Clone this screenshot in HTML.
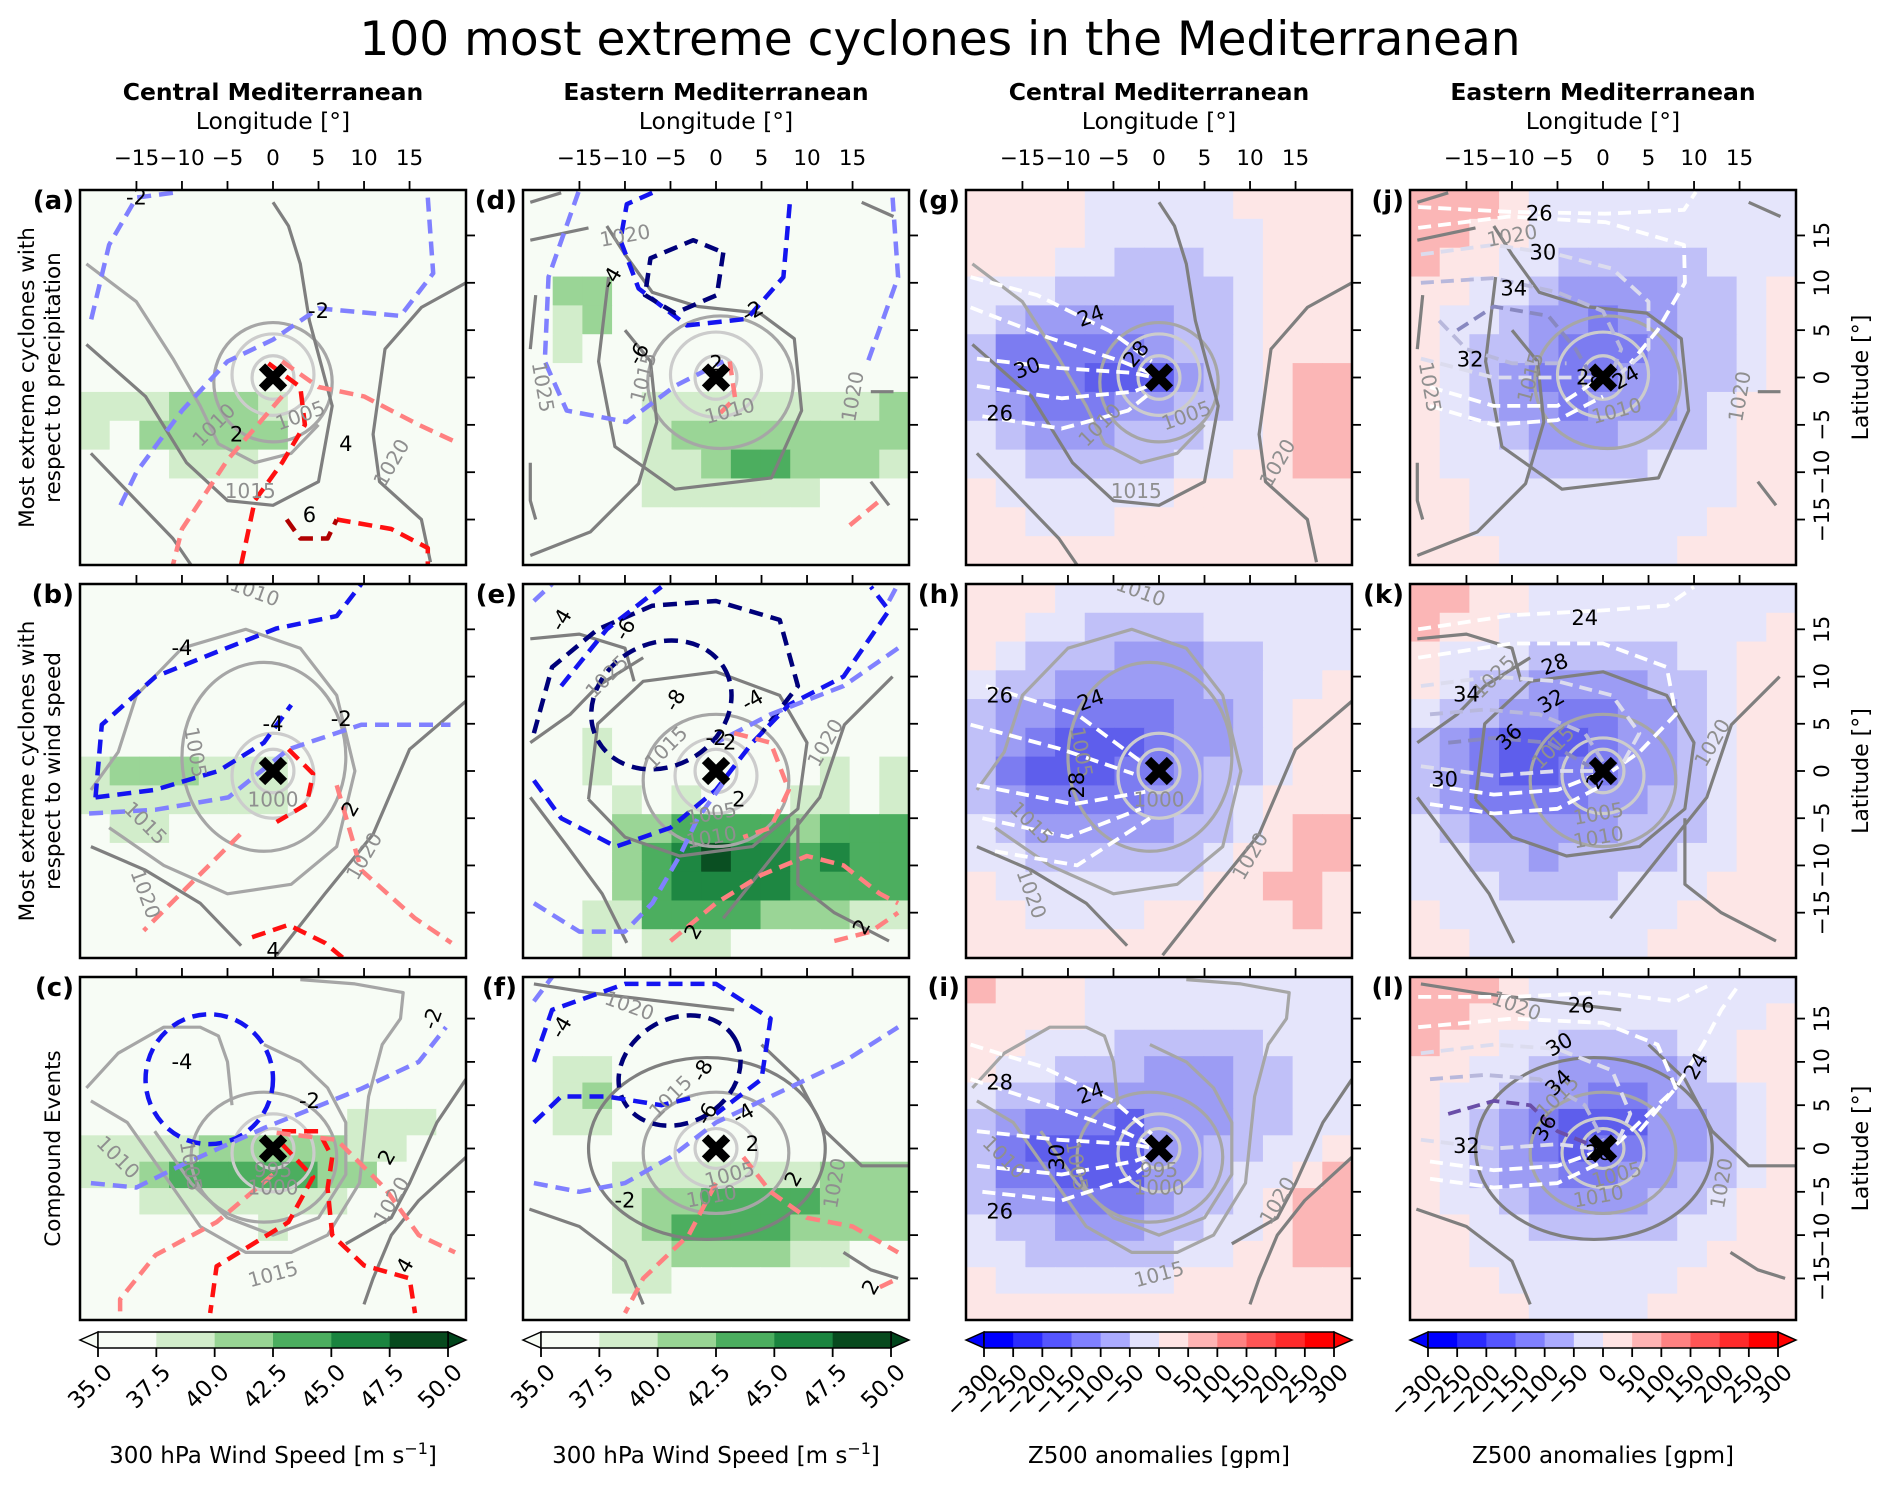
<!DOCTYPE html>
<html><head><meta charset="utf-8">
<style>
html,body{margin:0;padding:0;background:#fff;}
svg{display:block;font-family:"DejaVu Sans","Liberation Sans",sans-serif;}
</style></head>
<body>
<svg id="fig" width="1892" height="1490" viewBox="0 0 1892 1490" xmlns="http://www.w3.org/2000/svg">
<text x="940" y="55" text-anchor="middle" font-size="47" fill="#000">100 most extreme cyclones in the Mediterranean</text>
<g id="root"></g>
</svg>
<script>
// ---- layout ----
const colX=[80,523,966,1410];
const rowY=[190,584,977];
const rowH=[375,374,343];
const PW=386;
const LON_MAX=21.2, LAT_MAX=19.8;
const lonTicks=[-15,-10,-5,0,5,10,15];
const latTicks=[-15,-10,-5,0,5,10,15];
const colTitles=["Central Mediterranean","Eastern Mediterranean","Central Mediterranean","Eastern Mediterranean"];
const rowTitles=[["Most extreme cyclones with","respect to precipitation"],["Most extreme cyclones with","respect to wind speed"],["Compound Events"]];
const panelLetters=[["a","d","g","j"],["b","e","h","k"],["c","f","i","l"]];

// ---- heatmap grids (13x13 level codes) ----
const greenColors={'.':'#f7fcf5','1':'#d2edcb','2':'#9ad596','3':'#4cae5f','4':'#1e8742','5':'#0a4f22'};
const bwrColors={'p':'#fde6e6','P':'#fbb6b6','w':'#e5e5fb','a':'#c0c0f8','b':'#9c9cf4','c':'#7c7cf1','d':'#5e5eec'};
const E13='.............';
const gridA=[E13,E13,E13,E13,E13,E13,E13,"1112221......","1.22222......","...111.......",E13,E13,E13];
const gridB=[E13,E13,E13,E13,E13,E13,"1222111......","1111111......",".11..........",E13,E13,E13,E13];
const gridC=[E13,E13,E13,E13,E13,".........111.","11112222211..","1123333322...","..1111111....","......1......",E13,E13,E13];
const gridD=[E13,E13,E13,".22..........",".12..........",".1...........",E13,"....111111112","....122222222","....112332221","....111111...",E13,E13];
const gridE=[E13,E13,E13,E13,E13,"..1..........","..1.......1.1","...1.1...11.1","...2233332333","...2345443433","...2344443333","..11333322211","..1.111......"];
const gridF=[E13,E13,E13,".11..........",".12..........",".11..........",E13,"...1111111222","...1223333222","...1233332222","...11222211..","...11........",E13];
const gridG=["ppppwwwwwpppp","ppppwwwwwwppp","pppwwaaawwppp","wwwaaaaaawppp","wabbbbbaawppp","acccccbaawppp","acccdddbawpPP","abcccbbaawpPP","wabbbaaawwpPP","wwaaaaawwppPP","pwwwwwwpppppp","ppwwwpppppppp","ppppppppppppp"];
const gridH=["pppwwwwwwwwww","ppwwaaaawwwww","pwaaabbbaawww","waabbbbbaawwp","abbccccbbawpp","abcdddcbbawpp","acdddccbaawpp","abccccbbawppp","wabbbbbaawpPP","wwaaaaaawppPP","pwwwwwwwppPPp","ppwwwwpppppPp","ppppppppppppp"];
const gridI=["Ppppwwwwwwwww","ppppwwwwwwwww","ppwwwaaaaawww","pwwaaabbbaaww","waabbbbbbaaww","abcccdbbbaaww","acddddbbaawwp","accdddbbawwpP","abbcccbaawpPP","waabbbaawwpPP","wwaaaaawwppPP","pwwwwwwpppppp","ppppppppppppp"];
const gridJ=["PPPpwwwwwwwww","PPppwwwwwwwww","Pppwwaaaaawww","ppwwabbbbaawp","pwwabbcbbaawp","pwaabcccbaawp","pwabcccbbaawp","pwabbcbbbawpp","pwwabbbaaawpp","pwwwaaaawwwpp","ppwwwwwwwwwpp","ppwwwwwwwwppp","pppwwwwwwpppp"];
const gridK=["PPppwwwwwwwww","Pppwwwwwwwwwp","pwwwaaaaawwpp","pwaabbbbaawpp","waabbccbbawpp","abcdddcbbawpp","abcddccbbawpp","abccccbbaawpp","wabbbbbaaawpp","wwaabaaaawwpp","wwwaaaawwwppp","pwwwwwwwwpppp","ppwwwwwwppppp"];
const gridL=["PPPpwwwwwwwww","PPppwwwwwwwwp","Pppwwaaaawwpp","ppwwabbbbawpp","pwwabbccbaawp","pwabcdddbbawp","pwabcdccbbawp","pwabbccbbaawp","pwwabbbbaawpp","ppwwaaaaawwpp","ppwwwwwwwwppp","pppwwwwwwpppp","ppppwwwwppppp"];

// ---- isobars (hPa) shared per region/row: [lon,lat] points ----
const isoCentral1=[
 {e:[0,0,2.3,2.3],s:'g3'},{e:[0,0.3,4.5,4.3],s:'g3'},{e:[0,-0.5,6.5,6.3],s:'g2'},
 {p:[[-20.5,12],[-15,8],[-11,2],[-8,-3],[-6,-7],[-2,-9],[2,-8],[5,-5]],s:'g2'},
 {p:[[-20.5,3.5],[-14,-2],[-9.5,-9],[-5,-13],[0,-13.5],[5,-11],[6.5,-3],[4,6],[3,12],[1.7,16],[0,18.5]],s:'g1'},
 {p:[[21.2,10],[16.3,7.4],[12.3,3],[11,-6],[11.7,-11],[16.3,-15],[17.3,-19.5]],s:'g1'},
 {p:[[-20,-8],[-15,-13],[-11,-17],[-9,-19.8]],s:'g1'}];
const isoCentral1Labels=[["1005",3,-4,-20],["1010",-6.5,-5,-45],["1015",-2.5,-12,0],["1020",13,-9,-60]];
const isoCentral2=[
 {e:[0,0,2.3,2.3],s:'g3'},{e:[0,-0.5,4.5,4.5],s:'g3'},
 {p:[[-20,-2],[-17,2],[-15,8],[-10,13],[-3,15],[3,13],[7,8],[9,0],[7,-8],[2,-12],[-5,-13],[-12,-10],[-18,-6]],s:'g2'},
 {e:[-1,1.5,9,10],s:'g2'},
 {p:[[-20,-8],[-14,-10.5],[-8,-14],[-3.5,-18.5]],s:'g1'},
 {p:[[21.2,7.4],[15,2.3],[11,-6.7],[5.7,-13],[0.4,-19.5]],s:'g1'}];
const isoCentral2Labels=[["1005",-8.5,2,80],["1000",0,-3,0],["1015",-14,-5.5,45],["1020",-14,-13,70],["1020",10,-9,-60],["1010",-2,19,20]];
const isoCentral3=[
 {e:[0,0,2.3,2.3],s:'g3'},{e:[0,-0.5,4.5,4.5],s:'g3'},{e:[-1,-1,8,7.5],s:'g2'},
 {p:[[-13,2],[-9,-4],[-5,-8],[0,-10],[5,-8],[8,-3],[8,3],[6,7],[3,10],[-1,12]],s:'g2'},
 {p:[[-20.5,7],[-17,11],[-12,14],[-8,14],[-6,13],[-5,10],[-4.5,5]],s:'g2'},
 {p:[[-20,5.5],[-16,3],[-12,-3],[-8,-9],[-3,-12],[2,-12],[6,-10],[9.5,-4],[10.5,6],[12,12],[14,15],[14.3,18],[9,19],[3,19.5]],s:'g2'},
 {p:[[8,-11],[13,-8],[15,-4],[18,3],[21.2,8]],s:'g1'},
 {p:[[21.2,-1],[16,-6],[13,-10],[11,-15],[10,-18]],s:'g1'}];
const isoCentral3Labels=[["1010",-17,-1,45],["1005",-9,-2,80],["995",0,-2.5,0],["1000",0,-4.5,0],["1015",0,-14.5,-15],["1020",13,-6,-60]];
const isoEastern1=[
 {e:[0,0,2.3,2.3],s:'g3'},{e:[0,0.3,5,4.5],s:'g3'},{e:[0.5,-0.5,8,7],s:'g2'},
 {p:[[-11.8,10.6],[-12.9,1.7],[-11.1,-7.3],[-4.5,-11.8],[6.1,-10.6],[9.4,-3.5],[8.6,4.1],[4.8,6.8],[-2,7.5],[-7,9],[-10,13],[-12,16]],s:'g1'},
 {p:[[-20.4,-18.8],[-13.8,-16.3],[-8.5,-11.2],[-6.5,-4.7],[-7.2,1.7],[-10,5]],s:'g1'},
 {p:[[-19.8,8.7],[-20.4,3]],s:'g1'},{p:[[-20.4,-9],[-20.4,-13],[-19.8,-15]],s:'g1'},
 {p:[[-20.4,14.5],[-14,15.8]],s:'g1'},{p:[[-20.4,18.5],[-17,19.5]],s:'g1'},
 {p:[[16,18.5],[19.5,17]],s:'g1'},{p:[[17,-1.5],[19.5,-1.5]],s:'g1'},{p:[[17,-11],[19,-13.5]],s:'g1'}];
const isoEastern1Labels=[["1020",-10,15,-10],["1025",-19,-1,80],["1015",-8,0,-75],["1010",1.5,-3.5,-15],["1020",15,-2,-80]];
const isoEastern2=[
 {e:[0,0,2.3,2.3],s:'g3'},{e:[0,-0.5,4.5,4],s:'g3'},{e:[0,-1,8,7],s:'g2'},
 {p:[[-14,-3],[-13,5],[-8,9.5],[0,10.5],[7,8],[10,3],[9,-4],[4,-8],[-4,-9],[-10,-7],[-14,-3]],s:'g1'},
 {p:[[19.4,10],[14.1,4.9],[11.4,-2.8],[6.1,-9.2],[0.8,-15.6]],s:'g1'},
 {p:[[-20.4,-2.8],[-16.4,-7.9],[-12.5,-13],[-9.8,-18.2]],s:'g1'},
 {p:[[-20.4,14],[-15,14.5],[-10,13],[-9,9.5]],s:'g1'},
 {p:[[-20.4,3],[-16,6],[-13,9],[-8,12]],s:'g1'},
 {p:[[9,-5],[9,-12],[13,-15],[19,-18]],s:'g1'}];
const isoEastern2Labels=[["1025",-12,10,-45],["1015",-5.5,2.5,-45],["1005",-0.5,-4.5,-10],["1010",-0.5,-7,-10],["1020",12,3,-60]];
const isoEastern3=[
 {e:[0,0,2.3,2.3],s:'g3'},{e:[0,-0.5,4.5,4],s:'g3'},{e:[0,-0.5,8,7],s:'g2'},
 {e:[-1,0,13,10.5],s:'g1'},
 {p:[[21.2,-2],[16,-2],[12,2],[9,8],[5,12]],s:'g1'},
 {p:[[-20.5,-7],[-15,-9],[-10,-13],[-8,-18]],s:'g1'},
 {p:[[-20,19],[-14,18],[-6,17],[2,16]],s:'g1'},
 {p:[[14,-12],[17,-14],[20,-15]],s:'g1'}];
const isoEastern3Labels=[["1020",-9.5,16.5,20],["1015",-5,6,-45],["1005",1.5,-3,-15],["1010",-0.5,-5.5,-10],["1020",13,-4,-80]];

// ---- anomaly contours (dashed) per panel ----
const dashA=[
 {p:[[-11,19.5],[-15,19],[-18,14],[-20,6]],s:'bl'},
 {p:[[17,19],[17.6,11],[14,6.5],[5,7.3],[0,4],[-5,1.7],[-10,-3.5],[-15,-10],[-17,-14]],s:'bl'},
 {p:[[1,1.7],[5,-1],[10,-2],[16,-5],[20.5,-7]],s:'rl'},{p:[[1,-2],[-5,-8.7],[-10,-16],[-11,-19.8]],s:'rl'},
 {p:[[-0.5,1.5],[3,-1],[3.5,-5],[1,-9],[-2,-13],[-3.5,-19.8]],s:'rm'},{p:[[7,-15],[13,-16],[17,-18],[17,-19.8]],s:'rm'},
 {p:[[1.5,-15],[3,-17],[6,-17],[7,-15]],s:'rd'}];
const dashALabels=[["-2",-15,19,0],["-2",5,7,0],["2",-4,-6,0],["4",8,-7,0],["6",4,-14.5,0]];
const dashB=[
 {p:[[-19.5,-2.8],[-18.8,4.9],[-12.9,10],[-6.2,12.6],[0.4,15.1],[7,16.4],[9.7,19.8]],s:'bm'},
 {p:[[-19.5,-2.8],[-13,-2],[-6,0],[-1,3],[2,7]],s:'bm'},
 {p:[[-20.2,-4.5],[-12.9,-4.1],[-4.9,-2.8],[1.7,2.3],[9.7,4.9],[19.5,4.9]],s:'bl'},
 {p:[[1.7,2.3],[4.4,-0.3],[3.7,-3.5],[0.4,-5.4]],s:'rm'},
 {p:[[-3.6,-6.7],[-8.9,-11.8],[-14.2,-16.9]],s:'rl'},
 {p:[[7,-1.5],[9.7,-10.5],[15.6,-15.6],[19.6,-18.2]],s:'rl'},
 {p:[[-2.3,-17.6],[1.7,-16.3],[5.7,-18.2],[7.7,-19.8]],s:'rm'}];
const dashBLabels=[["-4",-10,13,0],["-4",0,5,0],["-2",7.5,5.5,0],["2",8.5,-4,-60],["4",0,-19,0]];
const dashC=[
 {e:[-7,8,7,7.5],s:'bm'},
 {p:[[-20,-4],[-15,-4.5],[-10.2,-2],[-0.9,2.4],[9.7,6.9],[16,10],[19,14]],s:'bl'},
 {p:[[1,0.5],[4.4,-3.3],[1.7,-8.5],[-6.2,-13.6],[-6.9,-19]],s:'rm'},
 {p:[[1,2],[5,2],[6.5,-1],[6,-4.6],[6.5,-10],[10,-13.5],[15,-15],[15.6,-19]],s:'rm'},
 {p:[[0.4,1.8],[7,1],[12.3,-4.6],[16,-10],[20,-12]],s:'rl'},
 {p:[[0,-3],[-6.2,-8.5],[-12.9,-12.3],[-16.8,-17.4],[-16.8,-19]],s:'rl'}];
const dashCLabels=[["-4",-10,10,0],["-2",4,5.5,0],["2",12.5,-1,-60],["4",14.5,-13.5,-60],["-2",17.5,15,-70]];
const dashD=[
 {p:[[-15.1,19.6],[-18.4,10.6],[-18.8,1.7],[-16.4,-3.5],[-9.8,-4.7],[-4.5,-0.9],[0.8,1.7]],s:'bl'},
 {p:[[19.4,19],[20,10.6],[16.7,1.7]],s:'bl'},
 {p:[[8.1,18.3],[7.4,10.6],[3.4,6.2],[-3.2,5.5],[-8.5,9.4],[-10.5,14.5],[-9.8,18.3],[-7,19.5]],s:'bm'},
 {p:[[0.8,13.2],[0.1,8.7],[-4.5,6.8],[-7.8,8.7],[-7.2,12.6],[-2.5,14.5],[0.8,13.2]],s:'bd'},
 {p:[[1.5,1.7],[2.1,-2.2],[0.1,-4.1]],s:'rl'},
 {p:[[14.7,-15.6],[18,-13]],s:'rl'}];
const dashDLabels=[["-4",-11.5,10.5,-60],["-6",-8.5,2.5,-60],["-2",4,7,-30],["2",0,1.5,0]];
const dashE=[
 {e:[-6,7,8,6.5,-30],s:'bd'},
 {p:[[-20,4],[-18,11],[-13,15],[-7,17.5],[0,18],[7,16],[9,9],[5,4]],s:'bd'},
 {p:[[-20,-1],[-17,-5],[-11,-8],[-5,-6],[0,-2],[4,3],[8,7],[14,10],[19,17],[17,19.5]],s:'bm'},
 {p:[[-17,9],[-12,15],[-6,19.5]],s:'bm'},
 {p:[[-20,-14],[-15,-17],[-10,-17],[-7,-14],[-4,-9],[-2,-5],[1,-1]],s:'bl'},
 {p:[[20,13],[14,9],[6,6],[0,3]],s:'bl'},
 {p:[[-20,18],[-18,19.8]],s:'bl'},{p:[[19,18],[20,19.8]],s:'bl'},
 {p:[[2,4],[6,3],[8,-2],[6,-6],[3,-7]],s:'rl'},
 {p:[[-5,-18],[0,-14],[5,-11],[10,-9],[14,-10],[18,-13],[20,-14]],s:'rl'},
 {p:[[13,-18],[17,-17],[20,-15]],s:'rl'}];
const dashELabels=[["-4",-17,16,-60],["-6",-10,15,-60],["-8",-4.5,7.5,-60],["-4",4,7.5,-30],["2",1.5,3,0],["2",2.5,-3,0],["2",-2.5,-17,-60],["2",16,-16.5,-60],["-2",0,3.5,0]];
const dashF=[
 {e:[-4,9,7,6,-30],s:'bd'},
 {p:[[-20,10],[-18,16],[-10,19],[0,19],[6,15],[5,8],[0,4]],s:'bm'},
 {p:[[-20,3],[-17,6],[-12,6],[-6,5],[-2,6]],s:'bm'},
 {p:[[-20,-4],[-15,-5],[-10,-4],[-5,-1],[0,3],[6,6],[14,10],[20,14]],s:'bl'},
 {p:[[-20,17],[-18,19.8]],s:'bl'},
 {p:[[3,-1],[6,-5],[10,-8],[15,-9],[20,-12]],s:'rl'},
 {p:[[0,-4],[-3,-10],[-8,-15],[-10,-19]],s:'rl'},
 {p:[[18,-16],[20,-15]],s:'rl'}];
const dashFLabels=[["-4",-17,14,-60],["-8",-1.5,9,-60],["-6",-1,4,-60],["-4",3,4,-30],["2",4,0.5,0],["-2",-10,-6,0],["2",8.5,-3.5,-60],["2",17,-16,-60]];

// Z500 composite (white dashed) contours for right columns
const dashG=[
 {p:[[-20.7,10.6],[-13.4,8.7],[-5.4,4.9],[-0.8,1.7]],s:'w'},
 {p:[[-20.7,7.4],[-12.1,4.2],[-4.1,1.7],[-0.8,0.4]],s:'w'},
 {p:[[-20,2],[-11,1],[-3,0.5],[-0.5,0]],s:'w'},
 {p:[[-20,-0.9],[-10.7,-2.2],[-2.8,-1.5],[-0.4,-0.6]],s:'w'},
 {p:[[-19.4,-4.1],[-10.7,-5.4],[-3.4,-3.5],[-0.8,-1.5]],s:'w'}];
const dashGLabels=[["24",-7.5,6.5,-20],["28",-2.5,2.5,-50],["30",-14.5,1,-20],["26",-17.5,-3.8,0]];
const dashH=[
 {p:[[-19,9],[-9,6],[-2,1]],s:'w'},
 {p:[[-20.7,4.9],[-10.7,2.3],[-2.8,-0.3]],s:'w'},
 {p:[[-20,-1.5],[-9.4,-3.5],[-1.5,-2.2]],s:'w'},
 {p:[[-19.4,-5],[-10,-7],[-2,-4]],s:'w'},
 {p:[[-18,-8.5],[-9,-10],[-1,-5]],s:'w'}];
const dashHLabels=[["26",-17.5,8,0],["24",-7.5,7.5,-20],["28",-9,-1.5,-90]];
const dashI=[
 {p:[[-20.7,12],[-13,9.5],[-5,5.5],[-0.8,1.7]],s:'w'},
 {p:[[-20.7,8],[-12,5],[-4,2],[-0.8,0.4]],s:'w'},
 {p:[[-20,2],[-11,1],[-3,0.5],[-0.5,0]],s:'w'},
 {p:[[-20,-2],[-10.7,-3],[-2.8,-1.5],[-0.4,-0.6]],s:'w'},
 {p:[[-19.4,-5],[-10.7,-6],[-3.4,-3.5],[-0.8,-1.5]],s:'w'}];
const dashILabels=[["28",-17.5,7.6,0],["24",-7.5,6.4,-20],["30",-11.2,-1,-90],["26",-17.5,-7.3,0]];
const dashJ=[
 {p:[[-20.3,18],[-10.3,17.5],[0.3,17.3],[8.9,17.7],[10.2,19.6]],s:'w'},
 {p:[[-20.3,15.8],[-10.3,17],[0.3,16.4],[8.9,14],[9,10],[6,5],[3,1.5]],s:'w'},
 {p:[[-20,13],[-12,14],[-5,13],[1,11.5],[5,8],[5,3],[2,0.5]],s:'w2'},
 {p:[[-20,10],[-12,10.5],[-5,9],[0,7],[2,3],[1,0.5]],s:'w3'},
 {p:[[-16,5],[-12,7.5],[-6,6.5],[-3,3],[-1.5,0.5]],s:'w4'},
 {p:[[-19,-1],[-12,-3],[-5,-3],[-1,-0.5]],s:'w'},
 {p:[[-19,-3],[-12,-5],[-5,-4.5],[0,-2]],s:'w'},
 {p:[[-20,2],[-12,0],[-5,0],[-1,0]],s:'w2'},
 {p:[[-18,6],[-15,3],[-10,1.5],[-4,1.5]],s:'w3'}];
const dashJLabels=[["26",-7,17.3,0],["30",-6.6,13.2,0],["34",-9.8,9.4,0],["32",-14.6,1.9,0],["28",-1.5,0,0],["24",2.5,0,-30]];
const dashK=[
 {p:[[-20.3,15],[-10,16.5],[0,17],[7,17.5],[10,19.5]],s:'w'},
 {p:[[-20.3,12],[-10,13.5],[0,13.5],[7,11],[8,6],[4,2],[1,0]],s:'w'},
 {p:[[-20,9],[-12,10],[-5,9.5],[1,8],[4,4],[2,0.5]],s:'w2'},
 {p:[[-19,6],[-13,6.5],[-7,6],[-2,4],[0,1]],s:'w3'},
 {p:[[-17,3],[-12,3.5],[-6,3],[-1.5,0.5]],s:'w4'},
 {p:[[-19,-1.5],[-12,-2.5],[-5,-2],[-1,-0.5]],s:'w'},
 {p:[[-19,-3.5],[-12,-4.5],[-5,-4],[0,-1.5]],s:'w'},
 {p:[[-20,0.5],[-12,-0.5],[-5,0],[-1,0]],s:'w2'}];
const dashKLabels=[["24",-2,16.2,0],["28",-5.3,11.3,-20],["34",-15,8.1,0],["32",-5.7,7.4,-30],["36",-10.3,3.6,-45],["30",-17.4,-0.9,0],["26",-0.5,-0.5,-60]];
const dashL=[
 {p:[[-20.3,17.5],[-10,17.5],[0,18],[8,17],[12,19]],s:'w'},
 {p:[[-20.3,14],[-10,15],[0,14.5],[6,12],[8,7],[3,2],[1,0]],s:'w'},
 {p:[[-20,11],[-12,12],[-5,11.5],[1,9],[3,4],[1.5,0.5]],s:'w2'},
 {p:[[-19,8],[-13,8.5],[-7,8],[-2,5],[0,1]],s:'w3'},
 {p:[[-17,4],[-12,5.5],[-8,5],[-5,2],[-1.5,0.5]],s:'w5'},
 {p:[[-19,-1.5],[-12,-2.5],[-5,-2],[-1,-0.5]],s:'w'},
 {p:[[-19,-3.5],[-12,-4.5],[-5,-4],[0,-1.5]],s:'w'},
 {p:[[-20,1],[-12,0],[-5,0.5],[-1,0]],s:'w2'},
 {p:[[4,2],[8,7],[11,12],[13,16],[15,19]],s:'w'}];
const dashLLabels=[["26",-2.4,16.5,0],["30",-4.8,12,-30],["34",-4.9,7.6,-45],["36",-6.4,2.4,-60],["32",-15,0.3,0],["24",10.2,9.5,-60],["28",-0.5,-0.5,0]];

const panels=[
 {r:0,c:0,grid:gridA,cm:'g',iso:isoCentral1,isoL:isoCentral1Labels,d:dashA,dL:dashALabels},
 {r:1,c:0,grid:gridB,cm:'g',iso:isoCentral2,isoL:isoCentral2Labels,d:dashB,dL:dashBLabels},
 {r:2,c:0,grid:gridC,cm:'g',iso:isoCentral3,isoL:isoCentral3Labels,d:dashC,dL:dashCLabels},
 {r:0,c:1,grid:gridD,cm:'g',iso:isoEastern1,isoL:isoEastern1Labels,d:dashD,dL:dashDLabels},
 {r:1,c:1,grid:gridE,cm:'g',iso:isoEastern2,isoL:isoEastern2Labels,d:dashE,dL:dashELabels},
 {r:2,c:1,grid:gridF,cm:'g',iso:isoEastern3,isoL:isoEastern3Labels,d:dashF,dL:dashFLabels},
 {r:0,c:2,grid:gridG,cm:'b',iso:isoCentral1,isoL:isoCentral1Labels,d:dashG,dL:dashGLabels},
 {r:1,c:2,grid:gridH,cm:'b',iso:isoCentral2,isoL:isoCentral2Labels,d:dashH,dL:dashHLabels},
 {r:2,c:2,grid:gridI,cm:'b',iso:isoCentral3,isoL:isoCentral3Labels,d:dashI,dL:dashILabels},
 {r:0,c:3,grid:gridJ,cm:'b',iso:isoEastern1,isoL:isoEastern1Labels,d:dashJ,dL:dashJLabels},
 {r:1,c:3,grid:gridK,cm:'b',iso:isoEastern2,isoL:isoEastern2Labels,d:dashK,dL:dashKLabels},
 {r:2,c:3,grid:gridL,cm:'b',iso:isoEastern3,isoL:isoEastern3Labels,d:dashL,dL:dashLLabels}];

const windTicks=["35.0","37.5","40.0","42.5","45.0","47.5","50.0"];
const windBinColors=['#f7fcf5','#d2edcb','#98d594','#4bae5f','#1a843f','#074a1e'];
const z500Ticks=["−300","−250","−200","−150","−100","−50","0","50","100","150","200","250","300"];
const z500BinColors=['#0000ff','#2b2bff','#5555ff','#8080ff','#aaaaff','#e2e2fd','#ffe4e4','#ffb4b4','#ff8282','#ff5555','#ff2b2b','#ff0000'];

const styles={
 g1:{c:'#7f7f7f',w:3.2,d:null},g2:{c:'#a6a6a6',w:3.2,d:null},g3:{c:'#cccccc',w:3.2,d:null},
 bl:{c:'#8080ff',w:4.5,d:'14 8'},bm:{c:'#1414f0',w:4.5,d:'14 8'},bd:{c:'#00007a',w:4.5,d:'14 8'},
 rl:{c:'#ff8080',w:4.5,d:'14 8'},rm:{c:'#ff1010',w:4.5,d:'14 8'},rd:{c:'#b00000',w:4.5,d:'14 8'},
 w:{c:'#ffffff',w:3.8,d:'13 7'},w2:{c:'#dcdcee',w:3.8,d:'13 7'},w3:{c:'#b8b8dc',w:3.8,d:'13 7'},w4:{c:'#8888c0',w:3.8,d:'13 7'},w5:{c:'#6a4ea8',w:3.8,d:'13 7'}};

const NS='http://www.w3.org/2000/svg';
const root=document.getElementById('root');
function el(tag,attrs,parent){const e=document.createElementNS(NS,tag);for(const k in attrs)e.setAttribute(k,attrs[k]);(parent||root).appendChild(e);return e;}
function txt(s,attrs,parent){const e=el('text',attrs,parent);e.textContent=s;return e;}

function xScale(c){const x0=colX[c];return lon=>x0+(lon+LON_MAX)/(2*LON_MAX)*PW;}
function yScale(r){const y0=rowY[r],h=rowH[r];return lat=>y0+h/2-lat*(h/(2*LAT_MAX));}

colTitles.forEach((t,c)=>{
 const cx=colX[c]+PW/2;
 const h=txt(t,{x:cx,y:100,'text-anchor':'middle','font-size':23.5,'font-weight':'bold'});
 
 
 const l=txt('Longitude [°]',{x:cx,y:129,'text-anchor':'middle','font-size':23.5});
 
 
});
rowTitles.forEach((lines,r)=>{
 const cy=rowY[r]+rowH[r]/2;
 lines.forEach((s,i)=>{
  const x= lines.length===2 ? 34+i*26 : 60;
  const t=txt(s,{x:x,y:cy,'text-anchor':'middle','font-size':21.5,transform:`rotate(-90 ${x} ${cy})`});
  
  
 });
});

panels.forEach(P=>{
 const X=xScale(P.c),Y=yScale(P.r);
 const x0=colX[P.c],y0=rowY[P.r],h=rowH[P.r];
 const g=el('g',{});
 
 
 const cid='clip'+P.r+P.c;
 const cp=el('clipPath',{id:cid},g);el('rect',{x:x0,y:y0,width:PW,height:h},cp);
 const inner=el('g',{'clip-path':`url(#${cid})`},g);
 const cmap=P.cm==='g'?greenColors:bwrColors;
 const nR=P.grid.length;
 P.grid.forEach((row,ri)=>{
  const nC=13;
  for(let ci=0;ci<nC;ci++){
   const ch=row[ci]||'.';
   const col=cmap[ch]||(P.cm==='g'?greenColors['.']:bwrColors['p']);
   const lonA=-LON_MAX+ci*(2*LON_MAX/nC),lonB=lonA+2*LON_MAX/nC;
   const latA=LAT_MAX-ri*(2*LAT_MAX/nR),latB=latA-2*LAT_MAX/nR;
   const cell=el('rect',{x:X(lonA),y:Y(latA),width:X(lonB)-X(lonA)+0.6,height:Y(latB)-Y(latA)+0.6,fill:col},inner);
   
   
  }
 });
 function drawC(item,parent){
  const st=styles[item.s];
  const a={fill:'none',stroke:st.c,'stroke-width':st.w,'stroke-linejoin':'round'};
  if(st.d)a['stroke-dasharray']=st.d;
  let e;
  if(item.e){
   const [lo,la,rx,ry,rot]=item.e;
   a.cx=X(lo);a.cy=Y(la);a.rx=X(lo+rx)-X(lo);a.ry=Y(la)-Y(la+ry);
   if(rot)a.transform=`rotate(${rot} ${a.cx} ${a.cy})`;
   e=el('ellipse',a,parent);
  } else {
   a.points=item.p.map(q=>X(q[0]).toFixed(1)+','+Y(q[1]).toFixed(1)).join(' ');
   e=el('polyline',a,parent);
  }
  
  
 }
 P.iso.forEach(it=>drawC(it,inner));
 P.d.forEach(it=>drawC(it,inner));
 P.isoL.forEach(L=>{
  const t=txt(L[0],{x:X(L[1]),y:Y(L[2])+7,'text-anchor':'middle','font-size':20,fill:'#8f8f8f',transform:`rotate(${L[3]} ${X(L[1])} ${Y(L[2])})`},inner);
  
  
 });
 P.dL.forEach(L=>{
  const t=txt(L[0],{x:X(L[1]),y:Y(L[2])+7,'text-anchor':'middle','font-size':21,fill:'#000',transform:`rotate(${L[3]} ${X(L[1])} ${Y(L[2])})`},inner);
  
  
 });
 const mx=X(0),my=Y(0);
 const m=el('g',{},g);
 
 
 el('line',{x1:mx-11,y1:my-11,x2:mx+11,y2:my+11,stroke:'#000','stroke-width':9},m);
 el('line',{x1:mx-11,y1:my+11,x2:mx+11,y2:my-11,stroke:'#000','stroke-width':9},m);
 const fr=el('rect',{x:x0,y:y0,width:PW,height:h,fill:'none',stroke:'#000','stroke-width':2.5},g);
 
 
 lonTicks.forEach(v=>{
  el('line',{x1:X(v),x2:X(v),y1:y0,y2:y0-9,stroke:'#000','stroke-width':1.8},g);
  if(P.r===0){
   const t=txt(v<0?'−'+(-v):String(v),{x:X(v),y:y0-25,'text-anchor':'middle','font-size':21.5},g);
   
   
  }
 });
 latTicks.forEach(v=>{
  el('line',{x1:x0+PW,x2:x0+PW+9,y1:Y(v),y2:Y(v),stroke:'#000','stroke-width':1.8},g);
  if(P.c===3){
   const lx=x0+PW+26;
   const t=txt(v<0?'−'+(-v):String(v),{x:lx,y:Y(v)+7,'text-anchor':'middle','font-size':21.5,transform:`rotate(-90 ${lx} ${Y(v)})`},g);
   
   
  }
 });
 if(P.c===3){
  const lx=1868,ly=y0+h/2;
  const t=txt('Latitude [°]',{x:lx,y:ly,'text-anchor':'middle','font-size':22,transform:`rotate(-90 ${lx} ${ly})`},g);
  
  
 }
 const pl=txt('('+panelLetters[P.r][P.c]+')',{x:x0-6,y:y0+19,'text-anchor':'end','font-size':26,'font-weight':'bold'},g);
 
 
});

function colorbar(c,ticks,bins,under,over,label){
 const x0=colX[c],y0=1332,hh=16,tri=18;
 const g=el('g',{});
 
 
 const bx0=x0+tri,bx1=x0+PW-tri,n=bins.length,bw=(bx1-bx0)/n;
 el('polygon',{points:`${x0},${y0+hh/2} ${bx0},${y0} ${bx0},${y0+hh}`,fill:under,stroke:'#000','stroke-width':1.5},g);
 el('polygon',{points:`${x0+PW},${y0+hh/2} ${bx1},${y0} ${bx1},${y0+hh}`,fill:over,stroke:'#000','stroke-width':1.5},g);
 bins.forEach((col,i)=>{const r=el('rect',{x:bx0+i*bw,y:y0,width:bw+0.5,height:hh,fill:col},g);
  
  });
 el('rect',{x:bx0,y:y0,width:bx1-bx0,height:hh,fill:'none',stroke:'#000','stroke-width':1.5},g);
 const step=(bx1-bx0)/(ticks.length-1);
 ticks.forEach((t,i)=>{
  const tx=bx0+i*step;
  el('line',{x1:tx,x2:tx,y1:y0+hh,y2:y0+hh+9,stroke:'#000','stroke-width':1.8},g);
  const ax=tx+10,ay=y0+hh+20;
  const e=txt(t,{x:ax,y:ay+8,'text-anchor':'end','font-size':23,transform:`rotate(-45 ${ax} ${ay})`},g);
  
  
 });
 const lb=txt(label,{x:x0+PW/2,y:1463,'text-anchor':'middle','font-size':23},g);
 
 
 return lb;
}
[0,1].forEach(c=>{
 const lb=colorbar(c,windTicks,windBinColors,'#f7fcf5','#00441b','');
 lb.textContent='300 hPa Wind Speed [m s';
 const sup=el('tspan',{dy:-9,'font-size':16},lb);sup.textContent='−1';
 const cl=el('tspan',{dy:9},lb);cl.textContent=']';
});
[2,3].forEach(c=>colorbar(c,z500Ticks,z500BinColors,'#0000ff','#ff0000','Z500 anomalies [gpm]'));
</script>
</body></html>
